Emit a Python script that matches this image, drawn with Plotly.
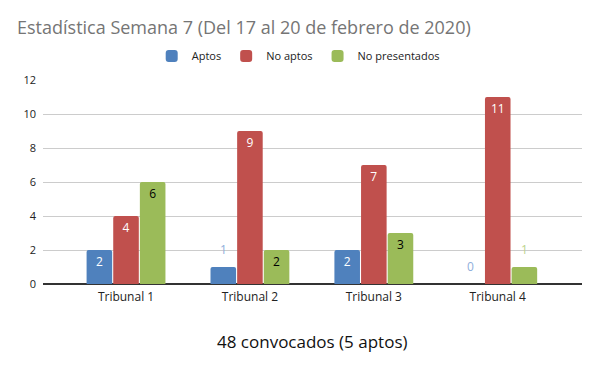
import plotly.graph_objects as go

categories = ["Tribunal 1", "Tribunal 2", "Tribunal 3", "Tribunal 4"]
aptos = [2, 1, 2, 0]
no_aptos = [4, 9, 7, 11]
no_presentados = [6, 2, 3, 1]
series_names = ["Aptos", "No aptos", "No presentados"]
colors = ["#4F81BD", "#C0504D", "#9BBB59"]
light_colors = ["#8FAEDB", "#D98A88", "#BCD38E"]
inside_text_colors = ["white", "white", "black"]
subtitle = "48 convocados (5 aptos)"

fig = go.Figure()
offsets = [-1, 0, 1]
for name, vals, col, lcol, tcol, off in zip(series_names, [aptos, no_aptos, no_presentados],
                                            colors, light_colors, inside_text_colors, offsets):
    texts = [str(v) if v >= 2 else "" for v in vals]
    fig.add_trace(go.Bar(
        name=name, x=categories, y=vals, text=texts,
        textposition="inside", insidetextanchor="end",
        textfont=dict(color=tcol, size=12, family="Open Sans"),
        marker=dict(color=col, line=dict(width=0), cornerradius=2),
        cliponaxis=False, offsetgroup=name,
    ))
    for i, v in enumerate(vals):
        if v < 2:
            fig.add_annotation(x=i + off * 0.2165, y=v, xref="x", yref="y",
                               text=str(v), showarrow=False, yshift=18,
                               font=dict(color=lcol, size=12, family="Open Sans"))

fig.update_layout(
    width=600, height=371,
    margin=dict(l=43, r=18, t=80, b=87, autoexpand=False),
    barmode="group", bargap=0.355, bargroupgap=0.04,
    plot_bgcolor="white", paper_bgcolor="white",
    font=dict(family="Open Sans", color="#222"),
    title=dict(text="Estadística Semana 7 (Del 17 al 20 de febrero de 2020)",
               x=17 / 600, xref="container", xanchor="left",
               y=1 - 28 / 371, yref="container", yanchor="middle",
               font=dict(size=18, color="#757575", family="Open Sans")),
    legend=dict(orientation="h", xref="container", x=0.497, xanchor="center",
                yref="container", y=1 - 56 / 371, yanchor="middle",
                font=dict(size=11, color="#222"), itemwidth=30,
                traceorder="normal"),
)
fig.add_annotation(text=subtitle, xref="paper", yref="paper", x=0.5,
                   y=-(341 - 284) / 204, yanchor="middle", showarrow=False,
                   font=dict(size=17, color="#111", family="Open Sans"))
fig.update_xaxes(range=[-0.67, 3.68], showgrid=False, showline=False,
                 ticks="", tickfont=dict(size=12, color="#222"),
                 ticklabelstandoff=4)
fig.update_yaxes(range=[0, 12], dtick=2, showgrid=True, gridcolor="#cccccc",
                 gridwidth=1, zeroline=True, zerolinecolor="#333333",
                 zerolinewidth=1.5, showline=False, ticks="",
                 tickfont=dict(size=11, color="#222"), ticklabelstandoff=6)

fig.write_html("out.html", config={"displayModeBar": False},
               post_script="document.body.style.margin='0';document.body.style.overflow='hidden';")
